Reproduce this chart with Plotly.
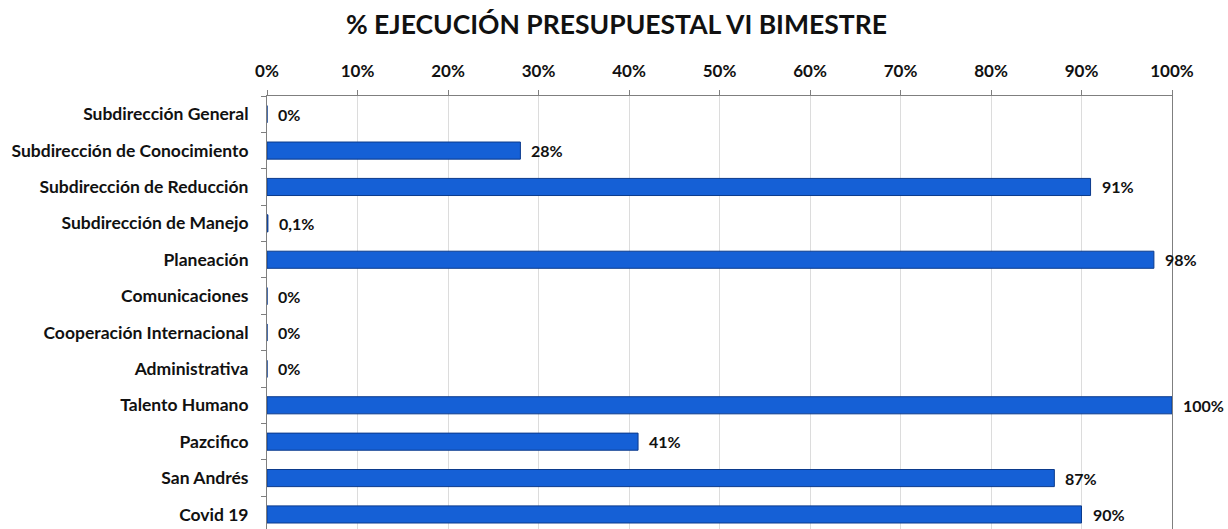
import plotly.graph_objects as go

categories = [
    "Subdirección General",
    "Subdirección de Conocimiento",
    "Subdirección de Reducción",
    "Subdirección de Manejo",
    "Planeación",
    "Comunicaciones",
    "Cooperación Internacional",
    "Administrativa",
    "Talento Humano",
    "Pazcifico",
    "San Andrés",
    "Covid 19",
]
values = [0.0, 0.28, 0.91, 0.001, 0.98, 0.0, 0.0, 0.0, 1.0, 0.41, 0.87, 0.90]
labels = ["0%", "28%", "91%", "0,1%", "98%", "0%", "0%", "0%", "100%", "41%", "87%", "90%"]
x_ticks = [0, 0.1, 0.2, 0.3, 0.4, 0.5, 0.6, 0.7, 0.8, 0.9, 1.0]
x_tick_labels = ["0%", "10%", "20%", "30%", "40%", "50%", "60%", "70%", "80%", "90%", "100%"]

FONT = "Lato"

fig = go.Figure()
fig.add_trace(go.Bar(
    x=values,
    y=categories,
    orientation="h",
    width=0.47,
    marker=dict(color="#1560d6", line=dict(color="#0b3a8c", width=1)),
    hoverinfo="x+y",
))

for v, c, t in zip(values, categories, labels):
    fig.add_annotation(
        x=v, y=c, text=f"<b>{t}</b>", showarrow=False,
        xanchor="left", yanchor="middle", xshift=9,
        font=dict(family=FONT, size=16, color="#111111"),
    )

fig.update_layout(
    width=1228,
    height=529,
    margin=dict(l=267, r=56, t=96, b=0),
    paper_bgcolor="white",
    plot_bgcolor="white",
    showlegend=False,
    title=dict(
        text="<b>% EJECUCIÓN PRESUPUESTAL VI BIMESTRE</b>",
        x=0.502, xanchor="center", y=1 - 25 / 529, yanchor="middle",
        font=dict(family=FONT, size=26.5, color="#111111"),
    ),
    bargap=0.5,
)

fig.update_xaxes(
    side="top",
    range=[0, 1],
    tickmode="array",
    tickvals=x_ticks,
    ticktext=[f"<b>{t}</b>" for t in x_tick_labels],
    tickfont=dict(family=FONT, size=17, color="#111111"),
    showgrid=True,
    gridcolor="#dcdcdc",
    gridwidth=1,
    showline=True,
    linecolor="#7f7f7f",
    linewidth=1,
    ticks="outside",
    ticklen=5,
    tickcolor="#7f7f7f",
    ticklabelstandoff=6,
    zeroline=False,
    mirror=False,
    fixedrange=True,
)

fig.update_yaxes(
    type="category",
    categoryorder="array",
    categoryarray=categories,
    range=[11.4, -0.5],
    tickmode="array",
    tickvals=categories,
    ticktext=[f"<b>{c}</b>" for c in categories],
    tickfont=dict(family=FONT, size=17.5, color="#111111"),
    ticks="outside",
    tickson="boundaries",
    ticklen=5,
    tickcolor="#7f7f7f",
    showline=True,
    mirror=True,
    linecolor="#7f7f7f",
    linewidth=1,
    showgrid=False,
    ticklabelstandoff=14,
    fixedrange=True,
)

fig.write_html(
    "out.html",
    config={"displayModeBar": False},
    post_script=(
        "document.documentElement.style.overflow='hidden';"
        "document.body.style.overflow='hidden';"
        "document.body.style.margin='0';"
    ),
)
